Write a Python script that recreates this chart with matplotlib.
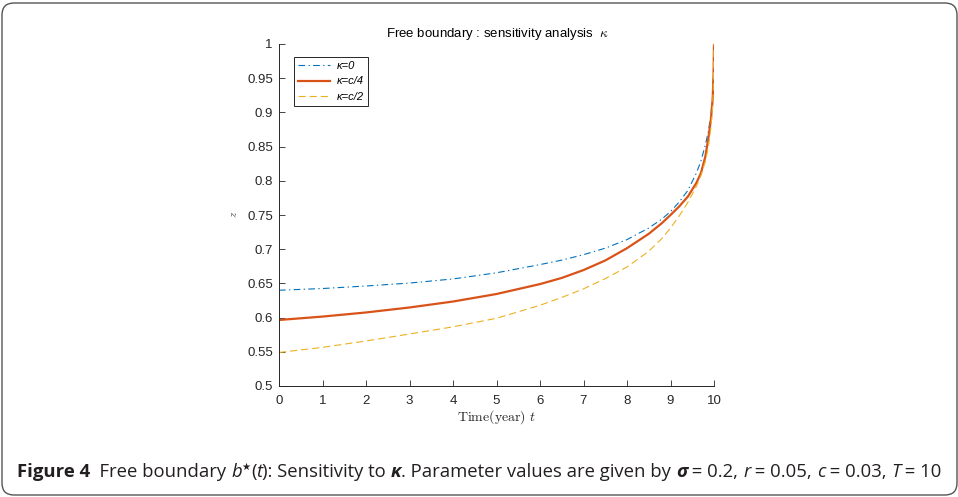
import matplotlib
matplotlib.use('Agg')
import matplotlib.pyplot as plt
import numpy as np
from matplotlib import font_manager
from matplotlib.patches import FancyBboxPatch
from matplotlib.transforms import IdentityTransform

# data
t = [0, 1, 2, 3, 4, 5, 6, 6.5, 7, 7.5, 8, 8.5, 8.8, 9, 9.2, 9.4, 9.6, 9.7, 9.8, 9.87,
     9.93, 9.97, 9.99, 10]
b_k0 = [0.640, 0.6425, 0.6462, 0.6505, 0.6565, 0.6655, 0.6775, 0.684, 0.692, 0.7015,
        0.714, 0.731, 0.744, 0.755, 0.769, 0.786, 0.812, 0.829, 0.852, 0.872,
        0.897, 0.925, 0.955, 1.0]
b_kc4 = [0.5965, 0.6015, 0.6075, 0.6148, 0.6235, 0.6345, 0.649, 0.658, 0.6695, 0.6835,
         0.7015, 0.7225, 0.738, 0.750, 0.7625, 0.777, 0.7975, 0.8115, 0.835, 0.862,
         0.89, 0.92, 0.955, 1.0]
b_kc2 = [0.549, 0.5565, 0.5658, 0.576, 0.5865, 0.599, 0.618, 0.6295, 0.642, 0.657,
         0.674, 0.697, 0.7155, 0.731, 0.7485, 0.7685, 0.7925, 0.8075, 0.828, 0.849,
         0.878, 0.91, 0.95, 1.0]
labels = ['κ=0', 'κ=c/4', 'κ=c/2']
xticks = list(range(0, 11))
yticks = [0.5, 0.55, 0.6, 0.65, 0.7, 0.75, 0.8, 0.85, 0.9, 0.95, 1.0]
ytick_labels = ['0.5', '0.55', '0.6', '0.65', '0.7', '0.75', '0.8', '0.85', '0.9', '0.95', '1']

plt.rcParams['font.family'] = ['Liberation Sans', 'DejaVu Sans']

W, H = 958, 497
fig = plt.figure(figsize=(W / 100, H / 100), dpi=100)
ax = fig.add_axes([279 / W, 1 - 386 / H, 435 / W, 342 / H])

ax.plot(t, b_k0, color='#0072BD', lw=0.8, dashes=(6, 3, 1.2, 3), label=labels[0])
ax.plot(t, b_kc4, color='#D95319', lw=1.6, label=labels[1])
ax.plot(t, b_kc2, color='#EDB120', lw=0.8, dashes=(6.5, 3.5), label=labels[2])

ax.set_xlim(0, 10)
ax.set_ylim(0.5, 1)
ax.set_xticks(xticks)
ax.set_yticks(yticks)
ax.set_yticklabels(ytick_labels)
for s in ['top', 'right']:
    ax.spines[s].set_visible(False)
for s in ['left', 'bottom']:
    ax.spines[s].set_color('#262626')
    ax.spines[s].set_linewidth(0.7)
ax.tick_params(direction='in', length=4, width=0.6, colors='#262626', labelsize=9.5)
ax.tick_params(axis='x', pad=6.5)
ax.tick_params(axis='y', pad=4.5)

ax.set_xlabel(r'$\mathrm{Time(year)}\ t$', fontsize=10, math_fontfamily='cm',
              color='#262626', va='center')
ax.xaxis.set_label_coords(0.5, -0.09)
ax.set_ylabel(r'$z$', fontsize=8, math_fontfamily='cm', color='#555555', va='center')
ax.yaxis.set_label_coords(-0.103, 0.503)

ax.text(0.503, 1.029, r'Free boundary : sensitivity analysis  $\kappa$', transform=ax.transAxes,
        ha='center', va='center', fontsize=9.5, math_fontfamily='cm')

leg = ax.legend(loc='upper left', bbox_to_anchor=(0.034, 0.962), borderaxespad=0,
                prop={'family': 'Liberation Sans', 'style': 'italic', 'size': 8},
                handlelength=2.85, fancybox=False, edgecolor='#262626', framealpha=1,
                borderpad=0.38, labelspacing=0.47, handletextpad=0.6)
leg.get_frame().set_linewidth(0.7)

# rounded frame around the whole figure
frame = FancyBboxPatch((2, 2), 955, 492, boxstyle='round,pad=0,rounding_size=12',
                       transform=IdentityTransform(), fill=False, edgecolor='#555555', lw=1.0)
fig.patches.append(frame)

# caption
names = {f.name for f in font_manager.fontManager.ttflist}
cap_font = next((f for f in ['Liberation Sans Narrow', 'Open Sans', 'Noto Sans'] if f in names),
                'DejaVu Sans')
pieces = [
    ('Figure 4', 'bold', 'normal', 0),
    ('  Free boundary ', 'normal', 'normal', 0),
    ('b', 'normal', 'italic', 0),
    ('★', 'normal', 'normal', 1),
    ('(', 'normal', 'normal', 0),
    ('t', 'normal', 'italic', 0),
    ('): Sensitivity to ', 'normal', 'normal', 0),
    ('κ', 'bold', 'italic', 0),
    ('. Parameter values are given by ', 'normal', 'normal', 0),
    ('σ', 'bold', 'italic', 0),
    (' = 0.2, ', 'normal', 'normal', 0),
    ('r', 'normal', 'italic', 0),
    (' = 0.05, ', 'normal', 'normal', 0),
    ('c', 'normal', 'italic', 0),
    (' = 0.03, ', 'normal', 'normal', 0),
    ('T', 'normal', 'italic', 0),
    (' = 10', 'normal', 'normal', 0),
]
x0, x1, base = 17, 940, H - 477


def layout(size):
    renderer = fig.canvas.get_renderer()
    x = x0
    texts = []
    for s, w, st, sup in pieces:
        fs = size * 0.55 if sup else size
        y = base + (size * 0.55 if sup else 0)
        tx = fig.text(x, y, s, transform=IdentityTransform(), fontsize=fs, weight=w, style=st,
                      family=[cap_font, 'DejaVu Sans'], color='#231f20', va='baseline')
        x += tx.get_window_extent(renderer).width
        texts.append(tx)
    return texts, x - x0


texts, width = layout(12)
for tx in texts:
    tx.remove()
size = 12 * (x1 - x0) / width
layout(size)

fig.savefig('out.png', dpi=100)
